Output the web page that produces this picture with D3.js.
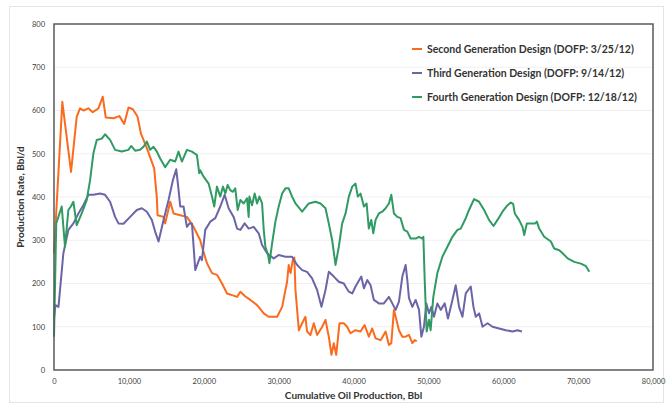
<!DOCTYPE html>
<html><head><meta charset="utf-8">
<script src="https://cdn.jsdelivr.net/npm/d3@7"></script>
<style>
body{margin:0;background:#fff;}
svg{display:block;font-family:Lato, "Open Sans", sans-serif;}
</style></head>
<body><svg id="c" width="671" height="406"></svg>
<script>
const xTicks=[0,10000,20000,30000,40000,50000,60000,70000,80000];
const yTicks=[0,100,200,300,400,500,600,700,800];
const seriesNames=["Second Generation Design (DOFP: 3/25/12)","Third Generation Design (DOFP: 9/14/12)","Fourth Generation Design (DOFP: 12/18/12)"];
const seriesColors=["#FA6B1E","#6B65A7","#2F9B63"];
const secondGen=[[0,270],[1110,620],[2275,458],[3030,585],[3480,605],[3920,600],[4590,605],[5170,596],[5930,605],[6510,632],[6910,584],[7940,582],[8740,587],[9370,569],[9950,607],[10530,603],[11150,586],[11600,547],[12400,513],[13380,466],[13740,397],[13830,358],[14630,354],[14850,339],[15520,389],[15970,362],[16860,358],[17750,354],[18640,331],[19530,300],[19760,285],[20430,247],[21100,224],[21770,220],[22440,200],[23110,177],[23780,173],[24450,169],[24890,181],[25560,170],[26230,162],[27120,150],[28010,131],[28670,123],[29800,123],[30470,146],[31130,204],[31350,243],[31600,224],[31890,254],[32100,260],[32250,185],[32700,92],[33140,108],[33580,123],[33800,89],[34250,81],[34700,108],[35140,81],[35820,100],[36260,116],[36700,77],[37060,35],[37370,62],[37690,35],[38130,108],[38700,108],[39150,100],[39600,85],[40270,92],[40940,89],[41480,104],[42050,77],[42500,96],[42950,73],[43620,69],[44290,89],[44730,58],[45050,62],[45400,139],[45630,123],[46070,92],[46520,77],[46960,77],[47410,81],[47860,62],[48170,69],[48440,66]];
const thirdGen=[[0,120],[200,150],[600,146],[1250,270],[1920,324],[2590,339],[3260,362],[3920,381],[4590,405],[5260,405],[6150,408],[6820,405],[7490,389],[8160,354],[8610,339],[9280,338],[10170,354],[11060,370],[11730,374],[12400,366],[13070,347],[13510,320],[13960,297],[14630,347],[15300,393],[15880,439],[16330,464],[16640,416],[16860,378],[17300,378],[17750,331],[18100,339],[18420,339],[18870,231],[19530,262],[19760,254],[20200,324],[20870,343],[21540,351],[22210,378],[22790,405],[23320,374],[23990,354],[24450,327],[24890,324],[25460,339],[26000,327],[26670,331],[27340,316],[27790,289],[28460,270],[29350,258],[30010,266],[30910,262],[31800,262],[32470,243],[33140,231],[33800,227],[34470,212],[35140,185],[35720,146],[36260,185],[36700,227],[37370,216],[38040,204],[38710,200],[38940,193],[39380,181],[39830,177],[40270,193],[41040,216],[41390,189],[41840,208],[42280,196],[42720,162],[43390,154],[44060,154],[44730,169],[45180,154],[45630,139],[46070,158],[46520,216],[46960,243],[47190,208],[47410,166],[47860,146],[48300,162],[48750,139],[49060,77],[49410,100],[49730,154],[50080,131],[50400,146],[50750,123],[51200,154],[51650,139],[52180,154],[52620,119],[53210,162],[53650,196],[54100,146],[54550,123],[54990,177],[55660,193],[56020,146],[56330,123],[56780,131],[57230,100],[57900,108],[58560,100],[59450,96],[60340,92],[61240,89],[61900,92],[62490,89]];
const fourthGen=[[0,77],[300,339],[1030,378],[1470,285],[1920,370],[2250,378],[2590,389],[3030,335],[3700,362],[4370,393],[4820,439],[5260,501],[5710,532],[6380,535],[6820,545],[7490,532],[8160,509],[9050,505],[9940,509],[10300,518],[10840,507],[11500,509],[11950,516],[12400,528],[12850,509],[13290,516],[13740,505],[14180,489],[14850,469],[15520,486],[16190,482],[16630,505],[17080,482],[17750,509],[18420,505],[19090,497],[19400,455],[19530,462],[19980,447],[20650,431],[21100,401],[21400,378],[21760,424],[22210,401],[22570,424],[22880,408],[23190,428],[23540,416],[23900,412],[24210,420],[24530,370],[24890,393],[25330,385],[25780,397],[26000,354],[26090,401],[26450,381],[26800,408],[27120,385],[27430,401],[27790,385],[28010,324],[28230,285],[28590,266],[28770,247],[29130,293],[29570,343],[30010,378],[30470,408],[30910,420],[31350,420],[31800,401],[32250,385],[33140,366],[34030,385],[34920,389],[35590,385],[36260,374],[36700,339],[37150,300],[37600,243],[38040,285],[38490,339],[38940,362],[39380,401],[39830,424],[40270,431],[40580,401],[40940,408],[41390,378],[41750,385],[42050,327],[42370,347],[42640,316],[42950,347],[43390,362],[43840,366],[44290,374],[44730,385],[45050,405],[45400,362],[45850,354],[46290,351],[46740,324],[47190,320],[47630,304],[48300,304],[48750,308],[49200,304],[49330,308],[49510,208],[49770,89],[50080,116],[50300,92],[50660,169],[51200,224],[51870,262],[52540,285],[53210,308],[53880,324],[54320,327],[54990,351],[55430,370],[56100,395],[56770,389],[57440,370],[58100,347],[58700,333],[59230,347],[59900,366],[60570,381],[61010,387],[61320,384],[61540,362],[62110,347],[62570,331],[62800,312],[63150,339],[63690,339],[64260,339],[64490,343],[64800,327],[65470,308],[66360,297],[66800,281],[67480,277],[67930,270],[68600,258],[69480,250],[70370,246],[71050,240],[71490,227]];
const allSeries=[secondGen,thirdGen,fourthGen];

const svg=d3.select("#c");
const L=54,R=653,T=24,B=370;
const x=d3.scaleLinear().domain([0,80000]).range([L,R]);
const y=d3.scaleLinear().domain([0,800]).range([B,T]);

// outer chart frame
svg.append("rect").attr("x",9.5).attr("y",6.5).attr("width",654).attr("height",396).attr("fill","#fff").attr("stroke","#e4e4e4");

// gridlines
svg.append("g").selectAll("line").data(yTicks.slice(1,-1)).join("line")
  .attr("x1",L).attr("x2",R).attr("y1",d=>y(d)).attr("y2",d=>y(d))
  .attr("stroke","#f0f0f0").attr("stroke-width",1);

// axes
const xa=svg.append("g").attr("transform",`translate(0,${B+6})`)
  .call(d3.axisBottom(x).tickValues(xTicks).tickFormat(d3.format(",")).tickSize(0));
xa.select(".domain").remove();
xa.selectAll("text").attr("font-size","7.5px").attr("fill","#404040").attr("font-family","Lato, sans-serif");
const ya=svg.append("g").attr("transform",`translate(${L-6},0)`)
  .call(d3.axisLeft(y).tickValues(yTicks).tickSize(0));
ya.select(".domain").remove();
ya.selectAll("text").attr("font-size","7.5px").attr("fill","#404040").attr("font-family","Lato, sans-serif");

// lines
const line=d3.line().x(d=>x(d[0])).y(d=>y(d[1]));
svg.append("g").selectAll("path").data(allSeries).join("path")
  .attr("d",line).attr("fill","none").attr("stroke",(d,i)=>seriesColors[i])
  .attr("stroke-width",2).attr("stroke-linejoin","round");

// plot frame
svg.append("rect").attr("x",L).attr("y",T).attr("width",R-L).attr("height",B-T)
  .attr("fill","none").attr("stroke","#595959").attr("stroke-width",1.5);

// axis titles
svg.append("text").attr("x",(L+R)/2).attr("y",399).attr("text-anchor","middle")
  .attr("font-size","10px").attr("font-weight","700").attr("fill","#333").text("Cumulative Oil Production, Bbl");
svg.append("text").attr("transform",`translate(24,${(T+B)/2}) rotate(-90)`).attr("text-anchor","middle")
  .attr("font-size","10px").attr("font-weight","700").attr("fill","#333").text("Production Rate, Bbl/d");

// legend
const lg=svg.append("g");
seriesNames.forEach((n,i)=>{
  const yy=49+i*24;
  lg.append("line").attr("x1",412).attr("x2",422).attr("y1",yy).attr("y2",yy).attr("stroke",seriesColors[i]).attr("stroke-width",2);
  lg.append("text").attr("x",427).attr("y",yy).attr("dy","0.35em").attr("font-size","10.5px").attr("font-weight","700").attr("fill","#333").text(n);
});
</script></body></html>
